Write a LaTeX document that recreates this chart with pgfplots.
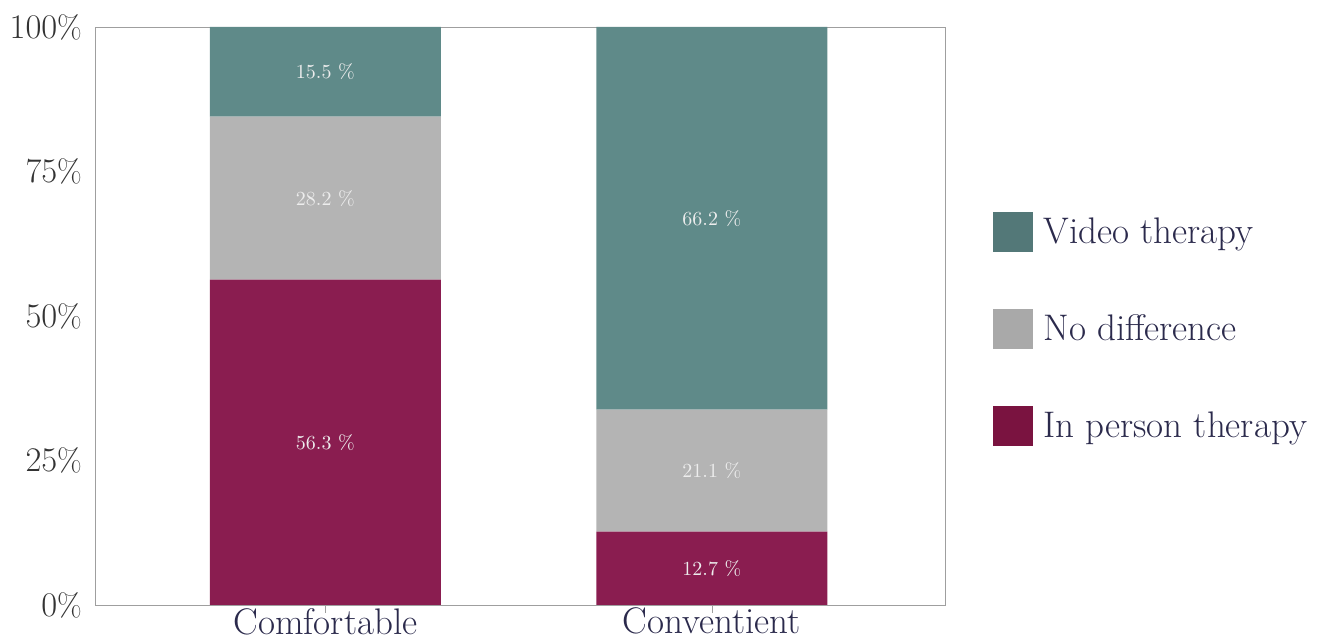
\documentclass[border=0pt]{standalone}
\usepackage{pgfplots}
\pgfplotsset{compat=1.18}

\definecolor{barvideo}{HTML}{5F8A89}
\definecolor{bargray}{HTML}{B4B4B4}
\definecolor{barperson}{HTML}{8A1D50}
\definecolor{legvideo}{HTML}{537878}
\definecolor{leggray}{HTML}{A9A9A9}
\definecolor{legperson}{HTML}{7A1340}
\definecolor{navy}{HTML}{2B2A4C}

\begin{document}
\begin{tikzpicture}
  \begin{axis}[
      name=ax,
      scale only axis,
      width=425pt, height=289pt,
      xmin=-0.596, xmax=1.603,
      ymin=0, ymax=100,
      ybar stacked,
      bar width=115.5pt,
      axis line style={draw=gray!75},
      tick pos=left,
      xtick={0,1},
      xticklabels={Comfortable,Conventient},
      xtick style={draw=gray!75},
      major tick length=4pt,
      tick align=outside,
      ytick={0,25,50,75,100},
      yticklabel={\pgfmathprintnumber{\tick}\%},
      ytick style={draw=none},
      yticklabel style={font=\fontsize{16}{18}\selectfont, text=black!80, xshift=1pt},
      xticklabel style={font=\fontsize{18.5}{20}\selectfont, text=navy, yshift=6pt},
      legend style={at={(rel axis cs:1.0565,0.4775)}, anchor=west, draw=none,
        fill=none, inner sep=0pt, row sep=28.5pt, column sep=5pt,
        font=\fontsize{18.5}{20}\selectfont, text=navy,
        nodes={inner sep=0pt, anchor=west}},
      legend cell align=left,
      reverse legend,
    ]

    % in person therapy (bottom)
    \addplot+[fill=barperson, draw=none,
      legend image code/.code={\fill[legperson] (0pt,-10pt) rectangle (20pt,10pt);}]
      coordinates {(0,56.3) (1,12.7)};
    \addlegendentry{In person therapy}
    % no difference
    \addplot+[fill=bargray, draw=none,
      legend image code/.code={\fill[leggray] (0pt,-10pt) rectangle (20pt,10pt);}]
      coordinates {(0,28.2) (1,21.1)};
    \addlegendentry{No difference}
    % video therapy (top)
    \addplot+[fill=barvideo, draw=none,
      legend image code/.code={\fill[legvideo] (0pt,-10pt) rectangle (20pt,10pt);}]
      coordinates {(0,15.5) (1,66.2)};
    \addlegendentry{Video therapy}

    % segment centres, labelled after the axis so the text sits above the bars
    \coordinate (a1) at (axis cs:0,28.15);
    \coordinate (a2) at (axis cs:0,70.4);
    \coordinate (a3) at (axis cs:0,92.25);
    \coordinate (b1) at (axis cs:1,6.35);
    \coordinate (b2) at (axis cs:1,23.25);
    \coordinate (b3) at (axis cs:1,66.9);
  \end{axis}
  \begin{scope}[every node/.style={font=\fontsize{10}{12}\selectfont, text=white!93!black}]
    \node at (a1) {56.3 \%};
    \node at (a2) {28.2 \%};
    \node at (a3) {15.5 \%};
    \node at (b1) {12.7 \%};
    \node at (b2) {21.1 \%};
    \node at (b3) {66.2 \%};
  \end{scope}
  \pgfresetboundingbox
  \path ([xshift=-47.5pt,yshift=-17.5pt]ax.south west)
    rectangle ([xshift=188pt,yshift=13.5pt]ax.north east);
\end{tikzpicture}
\end{document}
